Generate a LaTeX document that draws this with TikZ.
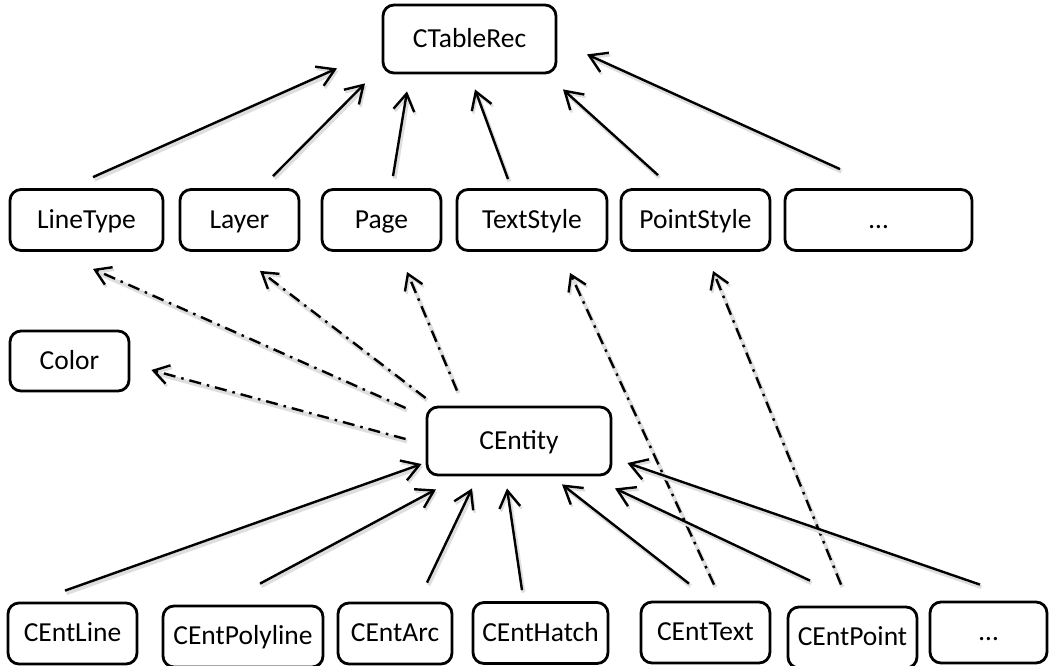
\documentclass[tikz,border=0pt]{standalone}
\usepackage{fontspec}
\setmainfont{Carlito}
\usetikzlibrary{arrows.meta}
\begin{document}
\begin{tikzpicture}[x=1pt,y=-1pt,
  box/.style={draw, line width=2.8pt, rounded corners=11pt, inner sep=0pt,
    minimum height=61pt, text height=20pt, text depth=4pt,
    font=\fontsize{27.5}{32}\selectfont},
  shade/.style={preaction={draw=black!13, line width=4pt,
    transform canvas={shift={(1.5pt,-2.5pt)}}}},
  inh/.style={shade, line width=2.4pt,
    -{Straight Barb[length=17pt,width=21pt,line width=2.4pt]}},
  dep/.style={shade, line width=2.4pt, dash pattern=on 12pt off 6pt on 2.5pt off 6pt,
    -{Straight Barb[length=15pt,width=19pt,line width=2.4pt]}},
]
\useasboundingbox (0,0) rectangle (1049,665);

% base record
\node[box, minimum width=173pt, minimum height=68pt] (ctable) at (469.5,39) {CTableRec};

% table records
\node[box, minimum width=153pt] (linetype)   at (86.5,220)  {LineType};
\node[box, minimum width=119pt] (layer)      at (239.5,220) {Layer};
\node[box, minimum width=119pt] (page)       at (381.5,220) {Page};
\node[box, minimum width=150pt] (textstyle)  at (532,220)   {TextStyle};
\node[box, minimum width=149pt] (pointstyle) at (695.5,220) {PointStyle};
\node[box, minimum width=187pt] (dotsA)      at (878.5,220) {…};

\node[box, minimum width=119pt, minimum height=60pt] (color) at (69.5,361) {Color};

% entity base
\node[box, minimum width=184pt, minimum height=68pt] (centity) at (519,441) {CEntity};

% entities
\node[box, minimum width=129pt] (centline)  at (72.5,633.5) {CEntLine};
\node[box, minimum width=160pt] (centpoly)  at (243,636.5)  {CEntPolyline};
\node[box, minimum width=114pt] (centarc)   at (395,633.5)  {CEntArc};
\node[box, minimum width=135pt] (centhatch) at (540.5,633)  {CEntHatch};
\node[box, minimum width=129pt] (centtext)  at (705.5,632.5){CEntText};
\node[box, minimum width=129pt] (centpoint) at (852.5,637.5){CEntPoint};
\node[box, minimum width=117pt] (dotsB)     at (988.5,632.5){…};

% inheritance: table records
\draw[inh] ([shift={(6.5,-11)}]linetype.north)    -- ([shift={(-132.5,-6)}]ctable.south);
\draw[inh] ([shift={(33.5,-12)}]layer.north)      -- ([shift={(-104.5,9)}]ctable.south);
\draw[inh] ([shift={(11.5,-12)}]page.north)       -- ([shift={(-62.5,17)}]ctable.south);
\draw[inh] ([shift={(-24,-9)}]textstyle.north)    -- ([shift={(5.5,15)}]ctable.south);
\draw[inh] ([shift={(-37.5,-13)}]pointstyle.north)-- ([shift={(93.5,15)}]ctable.south);
\draw[inh] ([shift={(-38.5,-19)}]dotsA.north)     -- ([shift={(117.5,-20)}]ctable.south);

% references from entities to table records
\draw[dep] ([shift={(-20,-33)}]centity.west)      -- ([shift={(6.5,17)}]linetype.south);
\draw[dep] ([shift={(0,-43)}]centity.west)        -- ([shift={(20.5,19)}]layer.south);
\draw[dep] ([shift={(-62,-15)}]centity.north)     -- ([shift={(25.5,20)}]page.south);
\draw[dep] ([shift={(-20,-2)}]centity.west)       -- ([shift={(21,9)}]color.east);
\draw[dep] ([shift={(8.5,-16)}]centtext.north)    -- ([shift={(38,21)}]textstyle.south);
\draw[dep] ([shift={(-11.5,-21)}]centpoint.north) -- ([shift={(17.5,19)}]pointstyle.south);

% inheritance: entities
\draw[inh] ([shift={(-7.5,-11)}]centline.north)   -- ([shift={(-4,23)}]centity.west);
\draw[inh] ([shift={(17,-21)}]centpoly.north)     -- ([shift={(-83,13)}]centity.south);
\draw[inh] ([shift={(32,-19)}]centarc.north)      -- ([shift={(-47,12)}]centity.south);
\draw[inh] ([shift={(-18.5,-11)}]centhatch.north) -- ([shift={(-12,12)}]centity.south);
\draw[inh] ([shift={(-16.5,-17)}]centtext.north)  -- ([shift={(43,8)}]centity.south);
\draw[inh] ([shift={(-42.5,-25)}]centpoint.north) -- ([shift={(96,12)}]centity.south);
\draw[inh] ([shift={(-8.5,-16)}]dotsB.north)      -- ([shift={(15,22)}]centity.east);
\end{tikzpicture}
\end{document}
